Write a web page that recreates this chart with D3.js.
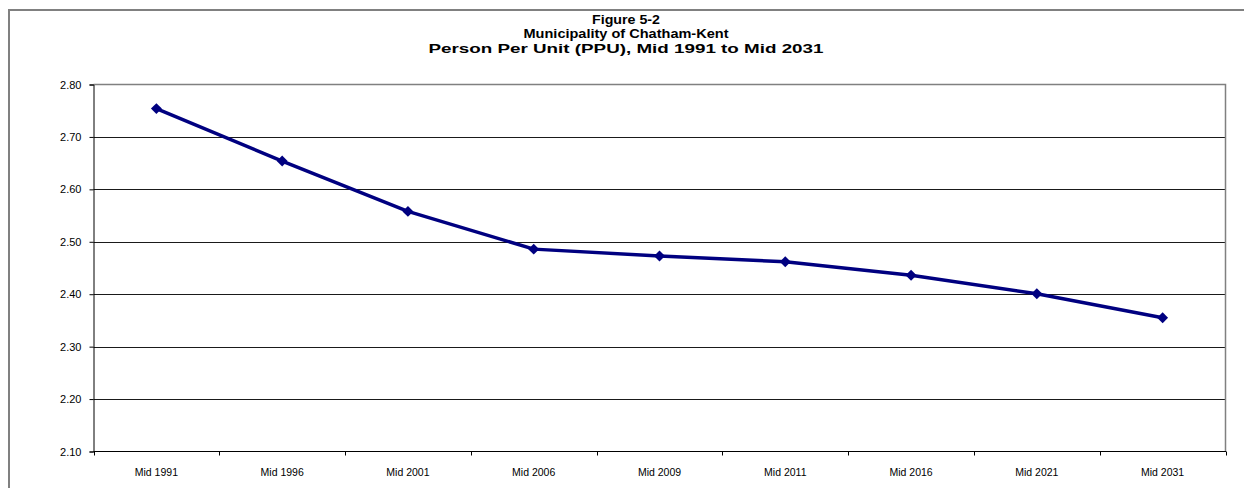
<!DOCTYPE html>
<html>
<head>
<meta charset="utf-8">
<script src="https://cdn.jsdelivr.net/npm/d3@7"></script>
<style>
  html, body { margin: 0; padding: 0; background: #fff; }
  svg { display: block; }
  text { font-family: "Liberation Sans", Arial, sans-serif; }
</style>
</head>
<body>
<svg id="chart" width="1244" height="488"></svg>
<script>
// Person Per Unit series, mid-year
const categories = ["Mid 1991", "Mid 1996", "Mid 2001", "Mid 2006", "Mid 2009",
                    "Mid 2011", "Mid 2016", "Mid 2021", "Mid 2031"];
const ppuValues = [2.754, 2.654, 2.558, 2.486, 2.473, 2.462, 2.436, 2.401, 2.355];
const yTicks = [2.10, 2.20, 2.30, 2.40, 2.50, 2.60, 2.70, 2.80];
const titleLines = ["Figure  5-2", "Municipality of Chatham-Kent",
                    "Person Per  Unit (PPU), Mid 1991 to Mid 2031"];
const titleWidths = [68, 205, 395];

const svg = d3.select("#chart");
const W = 1244, H = 488;
const plot = { left: 93.5, top: 84.5, right: 1225.5, bottom: 451.5 };

// outer chart frame (runs off the right and bottom edges)
svg.append("rect")
  .attr("x", 9).attr("y", 10)
  .attr("width", W + 20).attr("height", H + 20)
  .attr("fill", "#fff").attr("stroke", "#808080").attr("stroke-width", 2);

// title, three centred bold lines
svg.append("g").selectAll("text")
  .data(titleLines).join("text")
  .attr("x", 626).attr("y", (d, i) => 23.5 + i * 14.8)
  .attr("text-anchor", "middle")
  .attr("font-weight", "bold")
  .attr("font-size", 13)
  .attr("textLength", (d, i) => titleWidths[i])
  .attr("lengthAdjust", "spacingAndGlyphs")
  .text(d => d);

const x = d3.scaleBand().domain(categories).range([plot.left, plot.right]);
const y = d3.scaleLinear().domain([2.10, 2.80]).range([plot.bottom, plot.top]);

// gridlines
svg.append("g").selectAll("line")
  .data(yTicks.filter(v => v > 2.10 && v < 2.80))
  .join("line")
  .attr("x1", plot.left).attr("x2", plot.right)
  .attr("y1", d => Math.round(y(d)) + 0.5).attr("y2", d => Math.round(y(d)) + 0.5)
  .attr("stroke", "#1a1a1a").attr("stroke-width", 1);

// plot area top and right edges
svg.append("path")
  .attr("d", `M${plot.left},${plot.top}H${plot.right}V${plot.bottom}`)
  .attr("fill", "none").attr("stroke", "#808080").attr("stroke-width", 1.5);

// y axis
const yAxis = d3.axisLeft(y).tickValues(yTicks).tickFormat(d3.format(".2f"))
  .tickSize(4).tickPadding(8);
const gy = svg.append("g").attr("transform", `translate(${plot.left},0)`).call(yAxis);
gy.select(".domain").attr("stroke", "#000");
gy.selectAll(".tick line").attr("stroke", "#000");
gy.selectAll("text").attr("font-size", 11).attr("fill", "#000")
  .style("font-family", "'Liberation Sans', Arial, sans-serif");

// x axis: labels centred in bands, ticks on band boundaries
const gx = svg.append("g").attr("transform", `translate(0,${plot.bottom})`);
gx.append("line").attr("x1", plot.left).attr("x2", plot.right + 0.5)
  .attr("stroke", "#000").attr("stroke-width", 1);
const bounds = categories.map(c => x(c)).concat([x(categories[categories.length - 1]) + x.bandwidth()]);
gx.selectAll("line.tk").data(bounds).join("line").attr("class", "tk")
  .attr("x1", d => Math.round(d) + 0.5).attr("x2", d => Math.round(d) + 0.5)
  .attr("y1", 0).attr("y2", 4).attr("stroke", "#000");
gx.selectAll("text").data(categories).join("text")
  .attr("x", d => x(d) + x.bandwidth() / 2).attr("y", 24)
  .attr("text-anchor", "middle").attr("font-size", 10.5).attr("fill", "#000")
  .text(d => d);

// series line
const pts = categories.map((c, i) => [x(c) + x.bandwidth() / 2, y(ppuValues[i])]);
svg.append("path")
  .attr("d", d3.line()(pts))
  .attr("fill", "none").attr("stroke", "#000080").attr("stroke-width", 3.5)
  .attr("stroke-linejoin", "round");

// diamond markers
svg.append("g").selectAll("path")
  .data(pts).join("path")
  .attr("transform", d => `translate(${d[0]},${d[1]}) rotate(45)`)
  .attr("d", d3.symbol().type(d3.symbolSquare).size(60)())
  .attr("fill", "#000080");
</script>
</body>
</html>
